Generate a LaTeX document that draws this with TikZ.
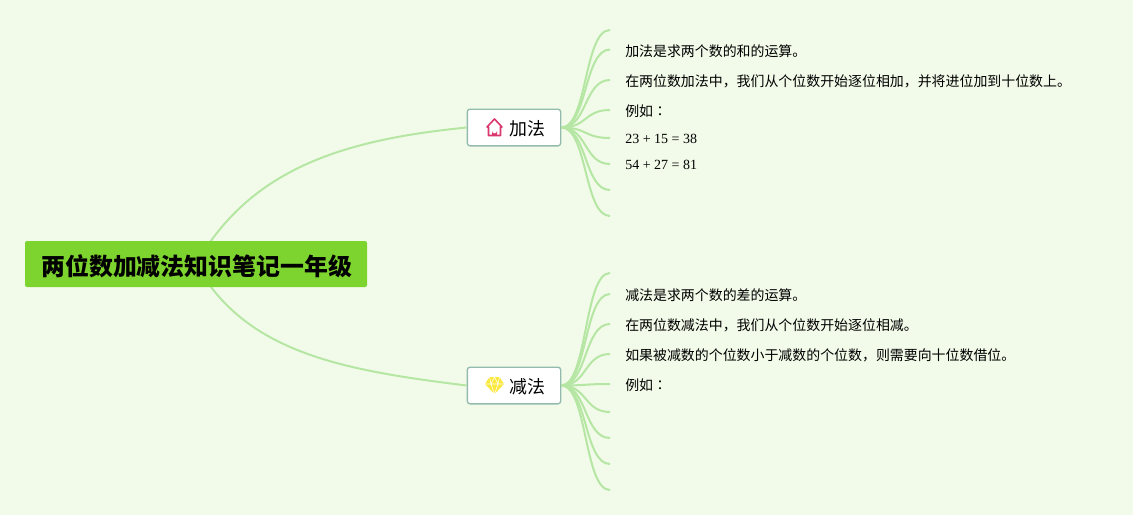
\documentclass[tikz,border=0pt]{standalone}
\usepackage{fontspec}
\setmainfont{Liberation Serif}
\newfontfamily\cjk[Scale=.995]{Noto Sans CJK SC}
\newfontfamily\cjkcolon{Noto Sans CJK TC}
\usetikzlibrary{positioning}
\definecolor{paper}{HTML}{F2FBE9}
\definecolor{twig}{HTML}{B6E6A4}
\definecolor{leafgreen}{HTML}{7ED42F}
\definecolor{boxline}{HTML}{93BBAE}
\definecolor{housered}{HTML}{D9376E}
\definecolor{gemyellow}{HTML}{FBE83C}
\tikzset{
  twigline/.style={draw=twig,line width=1.5pt},
  rootbox/.style={fill=leafgreen,rounded corners=1.5pt,minimum width=256.5pt,minimum height=34.5pt,text height=19pt,text depth=2.4pt,font=\cjk\bfseries\fontsize{18}{22}\selectfont},
  topicbox/.style={draw=boxline,fill=white,line width=1pt,rounded corners=2pt,minimum width=70pt,minimum height=27.5pt,text height=14pt,text depth=2pt,font=\cjk\fontsize{13.5}{16}\selectfont},
  leaftext/.style={right=11.25pt of #1,yshift=-.9pt,inner sep=0pt,font=\fontsize{10.5}{12}\selectfont},
  houseicon/.pic={
    \draw[housered,line width=1.2pt,line join=round] (-7.5,0) -- (0,-8) -- (7.5,0) -- (6,0) -- (6,8.5) -- (-6,8.5) -- (-6,0) -- cycle;
    \fill[housered] (-2.5,8.5) -- (-2.5,4) arc[start angle=180,end angle=0,radius=2.5] -- (2.5,8.5) -- cycle;
  },
  gemicon/.pic={
    \fill[gemyellow] (-5,-8.5) -- (5,-8.5) -- (9.5,-1.5) -- (0,8.5) -- (-9.5,-1.5) -- cycle;
    \draw[white,line width=.4pt] (-9.5,-1.5) -- (9.5,-1.5) (-3.5,-1.5) -- (0,8.5) -- (3.5,-1.5) (-5,-8.5) -- (-3.5,-1.5) -- (0,-8.5) -- (3.5,-1.5) -- (5,-8.5);
  }
}
\begin{document}
\begin{tikzpicture}[x=.75pt,y=-.75pt]
    \fill[paper] (0,0) rectangle (1133,515);
    \coordinate (rootc) at (196,264);
    \node[topicbox] (add) at (514,127.5) {\hspace{19.5pt}加法};
    \node[topicbox] (sub) at (514,385.5) {\hspace{19.5pt}减法};
    \draw[twigline] (rootc) .. controls (250,170) and (340,140) .. (add.west);
    \draw[twigline] (rootc) .. controls (245,352) and (340,370) .. (sub.west);
    \foreach \i/\y in {1/30,2/49.5,3/80,4/110,5/138,6/164,7/190,8/216}
      {\coordinate (add\i) at (610,\y);
       \draw[twigline] (add.east) .. controls +(26,0) and +(-26,0) .. (add\i);}
    \foreach \i/\y in {1/273,2/294,3/324,4/354,5/384,6/412,7/438,8/464,9/490}
      {\coordinate (sub\i) at (610,\y);
       \draw[twigline] (sub.east) .. controls +(26,0) and +(-26,0) .. (sub\i);}
    \node[rootbox] (root) at (rootc) {\hspace{1pt}两位数加减法知识笔记一年级};
    \pic at (494.5,127) {houseicon};
    \pic at (494.5,385.5) {gemicon};
    \node[leaftext=add2] (addtext1) {\cjk 加法是求两个数的和的运算。};
    \node[leaftext=add3] (addtext2) {\cjk 在两位数加法中，我们从个位数开始逐位相加，并将进位加到十位数上。};
    \node[leaftext=add4] (addtext3) {\cjk 例如\cjkcolon ：};
    \node[leaftext=add5] (addtext4) {23 + 15 = 38};
    \node[leaftext=add6] (addtext5) {54 + 27 = 81};
    \node[leaftext=sub2] (subtext1) {\cjk 减法是求两个数的差的运算。};
    \node[leaftext=sub3] (subtext2) {\cjk 在两位数减法中，我们从个位数开始逐位相减。};
    \node[leaftext=sub4] (subtext3) {\cjk 如果被减数的个位数小于减数的个位数，则需要向十位数借位。};
    \node[leaftext=sub5] (subtext4) {\cjk 例如\cjkcolon ：};
\end{tikzpicture}
\end{document}
